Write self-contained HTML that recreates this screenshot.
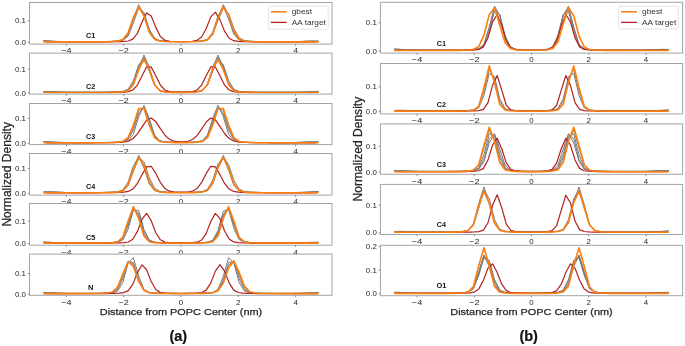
<!DOCTYPE html>
<html><head><meta charset="utf-8"><style>
html,body{margin:0;padding:0;background:#fff;}
body{width:685px;height:346px;overflow:hidden;}
svg{display:block;}
text{font-family:"Liberation Sans", sans-serif;fill:#262626;}
svg{will-change:transform;}
.tk{font-size:7.9px;}
.pl{font-size:7.1px;font-weight:bold;fill:#111;}
.lg{font-size:7.7px;fill:#333;}
.yl{font-size:12px;stroke:#262626;stroke-width:0.25px;}
.xl{font-size:9.7px;stroke:#262626;stroke-width:0.25px;}
.sub{font-size:14.5px;font-weight:bold;fill:#111;stroke:#111;stroke-width:0.2px;}
</style></head><body>
<svg width="685" height="346" viewBox="0 0 685 346">
<rect width="100%" height="100%" fill="#fff"/>
<rect x="29.50" y="2.50" width="302.50" height="41.60" fill="#fff"/>
<polyline points="43.50,40.83 48.79,40.92 54.08,41.29 59.36,41.54 64.65,41.61 69.94,41.63 75.23,41.65 80.52,41.65 85.81,41.65 91.10,41.65 96.39,41.64 101.67,41.62 106.96,41.56 112.25,41.42 117.54,41.13 122.83,40.18 128.11,34.86 133.40,18.71 138.69,4.63 143.98,15.07 149.27,32.77 154.56,39.74 159.85,41.05 165.14,41.38 170.42,41.54 175.71,41.61 181.00,41.63 186.29,41.62 191.58,41.55 196.86,41.41 202.15,41.12 207.44,40.13 212.73,34.64 218.02,18.30 223.31,4.58 228.60,15.47 233.89,33.03 239.17,39.79 244.46,41.06 249.75,41.38 255.04,41.54 260.33,41.61 265.61,41.64 270.90,41.65 276.19,41.65 281.48,41.65 286.77,41.65 292.06,41.64 297.35,41.60 302.64,41.44 307.92,41.16 313.21,41.01 318.50,41.16" fill="none" stroke="#7c7c7c" stroke-width="1.0" stroke-linejoin="round" opacity="1.0"/>
<polyline points="43.50,40.81 48.79,41.10 54.08,41.42 59.36,41.55 64.65,41.59 69.94,41.63 75.23,41.65 80.52,41.65 85.81,41.65 91.10,41.65 96.39,41.64 101.67,41.62 106.96,41.55 112.25,41.42 117.54,41.17 122.83,40.37 128.11,36.21 133.40,22.94 138.69,7.87 143.98,12.33 149.27,29.22 154.56,38.58 159.85,40.82 165.14,41.29 170.42,41.48 175.71,41.58 181.00,41.61 186.29,41.59 191.58,41.51 196.86,41.34 202.15,40.98 207.44,39.43 212.73,32.16 218.02,15.83 223.31,6.77 228.60,19.06 233.89,34.24 239.17,39.94 244.46,41.08 249.75,41.38 255.04,41.53 260.33,41.61 265.61,41.64 270.90,41.65 276.19,41.65 281.48,41.65 286.77,41.65 292.06,41.64 297.35,41.57 302.64,41.40 307.92,41.23 313.21,41.22 318.50,41.31" fill="none" stroke="#7c7c7c" stroke-width="1.0" stroke-linejoin="round" opacity="1.0"/>
<polyline points="43.50,41.01 48.79,41.30 54.08,41.45 59.36,41.50 64.65,41.57 69.94,41.63 75.23,41.65 80.52,41.65 85.81,41.65 91.10,41.64 96.39,41.62 101.67,41.57 106.96,41.48 112.25,41.30 117.54,40.92 122.83,39.38 128.11,33.05 133.40,18.97 138.69,7.96 143.98,14.56 149.27,29.62 154.56,38.27 159.85,40.68 165.14,41.22 170.42,41.43 175.71,41.54 181.00,41.58 186.29,41.57 191.58,41.49 196.86,41.32 202.15,40.97 207.44,39.63 212.73,33.92 218.02,20.36 223.31,8.31 228.60,13.35 233.89,28.45 239.17,37.84 244.46,40.59 249.75,41.20 255.04,41.42 260.33,41.55 265.61,41.61 270.90,41.64 276.19,41.65 281.48,41.65 286.77,41.65 292.06,41.63 297.35,41.56 302.64,41.44 307.92,41.37 313.21,41.35 318.50,41.21" fill="none" stroke="#7c7c7c" stroke-width="1.0" stroke-linejoin="round" opacity="1.0"/>
<polyline points="45.79,41.87 50.38,41.87 54.96,41.87 59.54,41.87 64.12,41.87 68.71,41.87 73.29,41.87 77.88,41.87 82.46,41.87 87.04,41.87 91.62,41.87 96.21,41.86 100.79,41.86 105.38,41.84 109.96,41.81 114.54,41.75 119.12,41.64 123.71,41.45 128.29,40.98 132.88,39.14 137.46,33.23 142.04,22.08 146.62,13.05 151.21,15.94 155.79,27.36 160.38,36.52 164.96,40.25 169.54,41.24 174.12,41.51 178.71,41.61 183.29,41.61 187.88,41.51 192.46,41.25 197.04,40.35 201.62,37.00 206.21,28.49 210.79,16.90 215.38,12.17 219.96,19.61 224.54,31.15 229.12,38.24 233.71,40.71 238.29,41.36 242.88,41.59 247.46,41.72 252.04,41.79 256.62,41.83 261.21,41.85 265.79,41.86 270.38,41.87 274.96,41.87 279.54,41.87 284.12,41.87 288.71,41.87 293.29,41.87 297.88,41.87 302.46,41.87 307.04,41.87 311.62,41.87 316.21,41.87" fill="none" stroke="#b22222" stroke-width="1.2" stroke-linejoin="round" opacity="1.0"/>
<polyline points="43.50,41.87 48.79,41.87 54.08,41.87 59.36,41.87 64.65,41.87 69.94,41.87 75.23,41.87 80.52,41.87 85.81,41.87 91.10,41.86 96.39,41.84 101.67,41.80 106.96,41.71 112.25,41.53 117.54,41.16 122.83,39.61 128.11,32.77 133.40,17.32 138.69,6.68 143.98,16.07 149.27,31.88 154.56,39.35 159.85,41.11 165.14,41.52 170.42,41.70 175.71,41.79 181.00,41.82 186.29,41.80 191.58,41.72 196.86,41.55 202.15,41.21 207.44,39.86 212.73,33.73 218.02,18.82 223.31,6.85 228.60,14.64 233.89,30.77 239.17,39.02 244.46,41.04 249.75,41.49 255.04,41.69 260.33,41.79 265.61,41.84 270.90,41.86 276.19,41.87 281.48,41.87 286.77,41.87 292.06,41.87 297.35,41.87 302.64,41.87 307.92,41.87 313.21,41.87 318.50,41.87" fill="none" stroke="#ff7f0e" stroke-width="1.6" stroke-linejoin="round" opacity="1.0"/>
<rect x="29.50" y="2.50" width="302.50" height="41.60" fill="none" stroke="#a4a4a4" stroke-width="1"/>
<line x1="66.42" y1="44.10" x2="66.42" y2="45.90" stroke="#777" stroke-width="0.8"/>
<text x="66.42" y="53.40" text-anchor="middle" class="tk" textLength="10.4" lengthAdjust="spacingAndGlyphs">−4</text>
<line x1="123.71" y1="44.10" x2="123.71" y2="45.90" stroke="#777" stroke-width="0.8"/>
<text x="123.71" y="53.40" text-anchor="middle" class="tk" textLength="10.4" lengthAdjust="spacingAndGlyphs">−2</text>
<line x1="181.00" y1="44.10" x2="181.00" y2="45.90" stroke="#777" stroke-width="0.8"/>
<text x="181.00" y="53.40" text-anchor="middle" class="tk">0</text>
<line x1="238.29" y1="44.10" x2="238.29" y2="45.90" stroke="#777" stroke-width="0.8"/>
<text x="238.29" y="53.40" text-anchor="middle" class="tk">2</text>
<line x1="295.58" y1="44.10" x2="295.58" y2="45.90" stroke="#777" stroke-width="0.8"/>
<text x="295.58" y="53.40" text-anchor="middle" class="tk">4</text>
<line x1="27.70" y1="42.30" x2="29.50" y2="42.30" stroke="#777" stroke-width="0.8"/>
<text x="25.90" y="44.80" text-anchor="end" class="tk">0.0</text>
<line x1="27.70" y1="20.70" x2="29.50" y2="20.70" stroke="#777" stroke-width="0.8"/>
<text x="25.90" y="23.20" text-anchor="end" class="tk">0.1</text>
<text x="90.60" y="38.48" text-anchor="middle" class="pl" textLength="9.22" lengthAdjust="spacingAndGlyphs">C1</text>
<rect x="29.50" y="53.10" width="302.50" height="41.00" fill="#fff"/>
<polyline points="43.50,91.86 48.79,91.92 54.08,91.92 59.36,92.03 64.65,92.18 69.94,92.26 75.23,92.28 80.52,92.28 85.81,92.28 91.10,92.28 96.39,92.28 101.67,92.27 106.96,92.25 112.25,92.18 117.54,92.03 122.83,91.73 128.11,90.63 133.40,84.61 138.69,67.67 143.98,55.00 149.27,67.17 154.56,84.32 159.85,90.57 165.14,91.71 170.42,92.02 175.71,92.17 181.00,92.21 186.29,92.17 191.58,92.02 196.86,91.71 202.15,90.57 207.44,84.32 212.73,67.17 218.02,55.00 223.31,67.67 228.60,84.61 233.89,90.63 239.17,91.73 244.46,92.03 249.75,92.18 255.04,92.25 260.33,92.27 265.61,92.28 270.90,92.28 276.19,92.28 281.48,92.28 286.77,92.28 292.06,92.25 297.35,92.20 302.64,92.14 307.92,92.06 313.21,91.83 318.50,91.48" fill="none" stroke="#7c7c7c" stroke-width="1.0" stroke-linejoin="round" opacity="1.0"/>
<polyline points="43.50,91.87 48.79,91.73 54.08,91.77 59.36,92.01 64.65,92.20 69.94,92.27 75.23,92.28 80.52,92.28 85.81,92.28 91.10,92.28 96.39,92.27 101.67,92.25 106.96,92.20 112.25,92.10 117.54,91.90 122.83,91.42 128.11,89.20 133.40,80.54 138.69,64.85 143.98,58.82 149.27,71.38 154.56,85.21 159.85,90.54 165.14,91.68 170.42,91.99 175.71,92.13 181.00,92.17 186.29,92.13 191.58,91.99 196.86,91.68 202.15,90.54 207.44,85.21 212.73,71.38 218.02,58.82 223.31,64.85 228.60,80.54 233.89,89.20 239.17,91.42 244.46,91.90 249.75,92.10 255.04,92.20 260.33,92.25 265.61,92.27 270.90,92.28 276.19,92.28 281.48,92.28 286.77,92.28 292.06,92.26 297.35,92.23 302.64,92.17 307.92,91.99 313.21,91.59 318.50,91.33" fill="none" stroke="#7c7c7c" stroke-width="1.0" stroke-linejoin="round" opacity="1.0"/>
<polyline points="43.50,91.65 48.79,91.51 54.08,91.74 59.36,92.07 64.65,92.23 69.94,92.27 75.23,92.28 80.52,92.28 85.81,92.28 91.10,92.28 96.39,92.28 101.67,92.26 106.96,92.23 112.25,92.14 117.54,91.97 122.83,91.60 128.11,90.03 133.40,82.69 138.69,66.28 143.98,57.27 149.27,69.68 154.56,84.87 159.85,90.57 165.14,91.70 170.42,92.01 175.71,92.15 181.00,92.19 186.29,92.15 191.58,92.01 196.86,91.70 202.15,90.57 207.44,84.87 212.73,69.68 218.02,57.27 223.31,66.28 228.60,82.69 233.89,90.03 239.17,91.60 244.46,91.97 249.75,92.14 255.04,92.23 260.33,92.26 265.61,92.28 270.90,92.28 276.19,92.28 281.48,92.28 286.77,92.28 292.06,92.27 297.35,92.24 302.64,92.14 307.92,91.83 313.21,91.45 318.50,91.44" fill="none" stroke="#7c7c7c" stroke-width="1.0" stroke-linejoin="round" opacity="1.0"/>
<polyline points="45.79,92.52 50.38,92.52 54.96,92.52 59.54,92.52 64.12,92.52 68.71,92.52 73.29,92.52 77.88,92.52 82.46,92.52 87.04,92.52 91.62,92.52 96.21,92.52 100.79,92.51 105.38,92.49 109.96,92.46 114.54,92.39 119.12,92.29 123.71,92.11 128.29,91.65 132.88,90.02 137.46,85.07 142.04,75.72 146.62,66.91 151.21,66.91 155.79,75.72 160.38,85.07 164.96,90.00 169.54,91.62 174.12,92.04 178.71,92.16 183.29,92.16 187.88,92.04 192.46,91.62 197.04,90.00 201.62,85.07 206.21,75.72 210.79,66.91 215.38,66.91 219.96,75.72 224.54,85.07 229.12,90.02 233.71,91.65 238.29,92.11 242.88,92.29 247.46,92.39 252.04,92.46 256.62,92.49 261.21,92.51 265.79,92.52 270.38,92.52 274.96,92.52 279.54,92.52 284.12,92.52 288.71,92.52 293.29,92.52 297.88,92.52 302.46,92.52 307.04,92.52 311.62,92.52 316.21,92.52" fill="none" stroke="#b22222" stroke-width="1.2" stroke-linejoin="round" opacity="1.0"/>
<polyline points="43.50,92.52 48.79,92.52 54.08,92.52 59.36,92.52 64.65,92.52 69.94,92.52 75.23,92.52 80.52,92.52 85.81,92.52 91.10,92.52 96.39,92.52 101.67,92.51 106.96,92.48 112.25,92.40 117.54,92.25 122.83,91.94 128.11,90.71 133.40,84.67 138.69,69.74 143.98,59.30 149.27,69.32 154.56,84.40 159.85,90.64 165.14,91.93 170.42,92.24 175.71,92.38 181.00,92.43 186.29,92.38 191.58,92.24 196.86,91.93 202.15,90.64 207.44,84.40 212.73,69.32 218.02,59.30 223.31,69.74 228.60,84.67 233.89,90.71 239.17,91.94 244.46,92.25 249.75,92.40 255.04,92.48 260.33,92.51 265.61,92.52 270.90,92.52 276.19,92.52 281.48,92.52 286.77,92.52 292.06,92.52 297.35,92.52 302.64,92.52 307.92,92.52 313.21,92.52 318.50,92.52" fill="none" stroke="#ff7f0e" stroke-width="1.6" stroke-linejoin="round" opacity="1.0"/>
<rect x="29.50" y="53.10" width="302.50" height="41.00" fill="none" stroke="#a4a4a4" stroke-width="1"/>
<line x1="66.42" y1="94.10" x2="66.42" y2="95.90" stroke="#777" stroke-width="0.8"/>
<text x="66.42" y="103.40" text-anchor="middle" class="tk" textLength="10.4" lengthAdjust="spacingAndGlyphs">−4</text>
<line x1="123.71" y1="94.10" x2="123.71" y2="95.90" stroke="#777" stroke-width="0.8"/>
<text x="123.71" y="103.40" text-anchor="middle" class="tk" textLength="10.4" lengthAdjust="spacingAndGlyphs">−2</text>
<line x1="181.00" y1="94.10" x2="181.00" y2="95.90" stroke="#777" stroke-width="0.8"/>
<text x="181.00" y="103.40" text-anchor="middle" class="tk">0</text>
<line x1="238.29" y1="94.10" x2="238.29" y2="95.90" stroke="#777" stroke-width="0.8"/>
<text x="238.29" y="103.40" text-anchor="middle" class="tk">2</text>
<line x1="295.58" y1="94.10" x2="295.58" y2="95.90" stroke="#777" stroke-width="0.8"/>
<text x="295.58" y="103.40" text-anchor="middle" class="tk">4</text>
<line x1="27.70" y1="93.00" x2="29.50" y2="93.00" stroke="#777" stroke-width="0.8"/>
<text x="25.90" y="95.50" text-anchor="end" class="tk">0.0</text>
<line x1="27.70" y1="69.10" x2="29.50" y2="69.10" stroke="#777" stroke-width="0.8"/>
<text x="25.90" y="71.60" text-anchor="end" class="tk">0.1</text>
<text x="90.60" y="88.60" text-anchor="middle" class="pl" textLength="9.22" lengthAdjust="spacingAndGlyphs">C2</text>
<rect x="29.50" y="103.50" width="302.50" height="41.10" fill="#fff"/>
<polyline points="43.50,141.60 48.79,141.71 54.08,142.14 59.36,142.42 64.65,142.51 69.94,142.53 75.23,142.55 80.52,142.55 85.81,142.55 91.10,142.55 96.39,142.55 101.67,142.54 106.96,142.51 112.25,142.44 117.54,142.29 122.83,141.97 128.11,140.76 133.40,134.23 138.69,116.81 143.98,105.23 149.27,118.48 154.56,135.19 159.85,140.96 165.14,142.01 170.42,142.30 175.71,142.44 181.00,142.48 186.29,142.44 191.58,142.30 196.86,142.01 202.15,140.96 207.44,135.19 212.73,118.48 218.02,105.23 223.31,116.81 228.60,134.23 233.89,140.76 239.17,141.97 244.46,142.29 249.75,142.44 255.04,142.51 260.33,142.54 265.61,142.55 270.90,142.55 276.19,142.55 281.48,142.55 286.77,142.55 292.06,142.54 297.35,142.49 302.64,142.31 307.92,141.98 313.21,141.81 318.50,142.00" fill="none" stroke="#7c7c7c" stroke-width="1.0" stroke-linejoin="round" opacity="1.0"/>
<polyline points="43.50,141.59 48.79,141.92 54.08,142.29 59.36,142.43 64.65,142.48 69.94,142.52 75.23,142.55 80.52,142.55 85.81,142.55 91.10,142.55 96.39,142.54 101.67,142.52 106.96,142.47 112.25,142.36 117.54,142.15 122.83,141.64 128.11,139.32 133.40,130.23 138.69,113.77 143.98,107.44 149.27,120.62 154.56,135.13 159.85,140.72 165.14,141.92 170.42,142.24 175.71,142.39 181.00,142.44 186.29,142.39 191.58,142.24 196.86,141.92 202.15,140.72 207.44,135.13 212.73,120.62 218.02,107.44 223.31,113.77 228.60,130.23 233.89,139.32 239.17,141.64 244.46,142.15 249.75,142.36 255.04,142.47 260.33,142.52 265.61,142.54 270.90,142.55 276.19,142.55 281.48,142.55 286.77,142.55 292.06,142.54 297.35,142.46 302.64,142.27 307.92,142.06 313.21,142.06 318.50,142.15" fill="none" stroke="#7c7c7c" stroke-width="1.0" stroke-linejoin="round" opacity="1.0"/>
<polyline points="43.50,141.82 48.79,142.15 54.08,142.31 59.36,142.37 64.65,142.45 69.94,142.52 75.23,142.55 80.52,142.55 85.81,142.55 91.10,142.55 96.39,142.54 101.67,142.51 106.96,142.45 112.25,142.33 117.54,142.09 122.83,141.46 128.11,138.41 133.40,127.61 138.69,111.01 143.98,108.05 149.27,123.17 154.56,136.51 159.85,141.05 165.14,141.99 170.42,142.28 175.71,142.41 181.00,142.45 186.29,142.41 191.58,142.28 196.86,141.99 202.15,141.05 207.44,136.51 212.73,123.17 218.02,108.05 223.31,111.01 228.60,127.61 233.89,138.41 239.17,141.46 244.46,142.09 249.75,142.33 255.04,142.45 260.33,142.51 265.61,142.54 270.90,142.55 276.19,142.55 281.48,142.55 286.77,142.55 292.06,142.53 297.35,142.45 302.64,142.31 307.92,142.23 313.21,142.20 318.50,142.04" fill="none" stroke="#7c7c7c" stroke-width="1.0" stroke-linejoin="round" opacity="1.0"/>
<polyline points="45.79,142.80 50.38,142.80 54.96,142.80 59.54,142.80 64.12,142.80 68.71,142.80 73.29,142.80 77.88,142.80 82.46,142.80 87.04,142.79 91.62,142.78 96.21,142.77 100.79,142.74 105.38,142.69 109.96,142.63 114.54,142.53 119.12,142.37 123.71,142.03 128.29,141.11 132.88,138.73 137.46,133.91 142.04,126.84 146.62,120.21 151.21,117.94 155.79,121.58 160.38,128.66 164.96,135.28 169.54,139.37 174.12,141.19 178.71,141.78 183.29,141.79 187.88,141.26 192.46,139.54 197.04,135.62 201.62,129.13 206.21,121.96 210.79,118.00 215.38,119.90 219.96,126.37 224.54,133.52 229.12,138.51 233.71,141.01 238.29,142.00 242.88,142.36 247.46,142.52 252.04,142.62 256.62,142.69 261.21,142.74 265.79,142.76 270.38,142.78 274.96,142.79 279.54,142.80 284.12,142.80 288.71,142.80 293.29,142.80 297.88,142.80 302.46,142.80 307.04,142.80 311.62,142.80 316.21,142.80" fill="none" stroke="#b22222" stroke-width="1.2" stroke-linejoin="round" opacity="1.0"/>
<polyline points="43.50,142.80 48.79,142.80 54.08,142.80 59.36,142.80 64.65,142.80 69.94,142.80 75.23,142.80 80.52,142.80 85.81,142.80 91.10,142.80 96.39,142.79 101.67,142.76 106.96,142.69 112.25,142.55 117.54,142.28 122.83,141.49 128.11,137.61 133.40,125.08 138.69,108.45 143.98,108.50 149.27,125.15 154.56,137.64 159.85,141.49 165.14,142.28 170.42,142.54 175.71,142.67 181.00,142.71 186.29,142.67 191.58,142.54 196.86,142.28 202.15,141.49 207.44,137.64 212.73,125.15 218.02,108.50 223.31,108.45 228.60,125.08 233.89,137.61 239.17,141.49 244.46,142.28 249.75,142.55 255.04,142.69 260.33,142.76 265.61,142.79 270.90,142.80 276.19,142.80 281.48,142.80 286.77,142.80 292.06,142.80 297.35,142.80 302.64,142.80 307.92,142.80 313.21,142.80 318.50,142.80" fill="none" stroke="#ff7f0e" stroke-width="1.6" stroke-linejoin="round" opacity="1.0"/>
<rect x="29.50" y="103.50" width="302.50" height="41.10" fill="none" stroke="#a4a4a4" stroke-width="1"/>
<line x1="66.42" y1="144.60" x2="66.42" y2="146.40" stroke="#777" stroke-width="0.8"/>
<text x="66.42" y="153.90" text-anchor="middle" class="tk" textLength="10.4" lengthAdjust="spacingAndGlyphs">−4</text>
<line x1="123.71" y1="144.60" x2="123.71" y2="146.40" stroke="#777" stroke-width="0.8"/>
<text x="123.71" y="153.90" text-anchor="middle" class="tk" textLength="10.4" lengthAdjust="spacingAndGlyphs">−2</text>
<line x1="181.00" y1="144.60" x2="181.00" y2="146.40" stroke="#777" stroke-width="0.8"/>
<text x="181.00" y="153.90" text-anchor="middle" class="tk">0</text>
<line x1="238.29" y1="144.60" x2="238.29" y2="146.40" stroke="#777" stroke-width="0.8"/>
<text x="238.29" y="153.90" text-anchor="middle" class="tk">2</text>
<line x1="295.58" y1="144.60" x2="295.58" y2="146.40" stroke="#777" stroke-width="0.8"/>
<text x="295.58" y="153.90" text-anchor="middle" class="tk">4</text>
<line x1="27.70" y1="143.30" x2="29.50" y2="143.30" stroke="#777" stroke-width="0.8"/>
<text x="25.90" y="145.80" text-anchor="end" class="tk">0.0</text>
<line x1="27.70" y1="118.40" x2="29.50" y2="118.40" stroke="#777" stroke-width="0.8"/>
<text x="25.90" y="120.90" text-anchor="end" class="tk">0.1</text>
<text x="90.60" y="139.08" text-anchor="middle" class="pl" textLength="9.22" lengthAdjust="spacingAndGlyphs">C3</text>
<rect x="29.50" y="153.50" width="302.50" height="41.60" fill="#fff"/>
<polyline points="43.50,192.11 48.79,192.18 54.08,192.17 59.36,192.28 64.65,192.45 69.94,192.53 75.23,192.55 80.52,192.55 85.81,192.55 91.10,192.55 96.39,192.54 101.67,192.52 106.96,192.46 112.25,192.32 117.54,192.03 122.83,191.07 128.11,185.72 133.40,169.49 138.69,155.33 143.98,165.83 149.27,183.62 154.56,190.62 159.85,191.94 165.14,192.28 170.42,192.44 175.71,192.51 181.00,192.53 186.29,192.51 191.58,192.44 196.86,192.29 202.15,191.97 207.44,190.77 212.73,184.29 218.02,166.90 223.31,155.22 228.60,168.39 233.89,185.15 239.17,190.95 244.46,192.01 249.75,192.31 255.04,192.45 260.33,192.52 265.61,192.54 270.90,192.55 276.19,192.55 281.48,192.55 286.77,192.55 292.06,192.52 297.35,192.46 302.64,192.40 307.92,192.32 313.21,192.08 318.50,191.71" fill="none" stroke="#7c7c7c" stroke-width="1.0" stroke-linejoin="round" opacity="1.0"/>
<polyline points="43.50,192.12 48.79,191.97 54.08,192.02 59.36,192.27 64.65,192.47 69.94,192.54 75.23,192.55 80.52,192.55 85.81,192.55 91.10,192.54 96.39,192.53 101.67,192.48 106.96,192.39 112.25,192.22 117.54,191.88 122.83,190.63 128.11,185.17 133.40,171.44 138.69,157.97 143.98,161.82 149.27,177.59 154.56,188.11 159.85,191.34 165.14,192.05 170.42,192.30 175.71,192.42 181.00,192.47 186.29,192.45 191.58,192.36 196.86,192.18 202.15,191.77 207.44,190.10 212.73,183.28 218.02,168.40 223.31,157.12 228.60,164.41 233.89,180.20 239.17,189.10 244.46,191.56 249.75,192.11 255.04,192.33 260.33,192.45 265.61,192.51 270.90,192.54 276.19,192.55 281.48,192.55 286.77,192.55 292.06,192.53 297.35,192.50 302.64,192.44 307.92,192.24 313.21,191.83 318.50,191.56" fill="none" stroke="#7c7c7c" stroke-width="1.0" stroke-linejoin="round" opacity="1.0"/>
<polyline points="43.50,191.89 48.79,191.74 54.08,191.99 59.36,192.34 64.65,192.50 69.94,192.54 75.23,192.55 80.52,192.55 85.81,192.55 91.10,192.54 96.39,192.53 101.67,192.48 106.96,192.38 112.25,192.18 117.54,191.75 122.83,189.86 128.11,181.95 133.40,165.71 138.69,156.76 143.98,168.14 149.27,183.66 154.56,190.35 159.85,191.85 165.14,192.22 170.42,192.39 175.71,192.48 181.00,192.50 186.29,192.46 191.58,192.36 196.86,192.15 202.15,191.64 207.44,189.31 212.73,180.20 218.02,163.64 223.31,157.18 228.60,170.39 233.89,185.04 239.17,190.70 244.46,191.92 249.75,192.25 255.04,192.41 260.33,192.49 265.61,192.53 270.90,192.55 276.19,192.55 281.48,192.55 286.77,192.55 292.06,192.54 297.35,192.51 302.64,192.40 307.92,192.08 313.21,191.69 318.50,191.68" fill="none" stroke="#7c7c7c" stroke-width="1.0" stroke-linejoin="round" opacity="1.0"/>
<polyline points="45.79,192.80 50.38,192.80 54.96,192.80 59.54,192.80 64.12,192.80 68.71,192.80 73.29,192.80 77.88,192.80 82.46,192.80 87.04,192.80 91.62,192.79 96.21,192.79 100.79,192.77 105.38,192.73 109.96,192.68 114.54,192.59 119.12,192.45 123.71,192.19 128.29,191.43 132.88,189.09 137.46,183.47 142.04,174.58 146.62,166.83 151.21,166.28 155.79,173.41 160.38,182.48 164.96,188.56 169.54,191.19 174.12,192.00 178.71,192.21 183.29,192.21 187.88,192.00 192.46,191.19 197.04,188.56 201.62,182.48 206.21,173.41 210.79,166.28 215.38,166.83 219.96,174.58 224.54,183.47 229.12,189.09 233.71,191.43 238.29,192.19 242.88,192.45 247.46,192.59 252.04,192.68 256.62,192.73 261.21,192.77 265.79,192.79 270.38,192.79 274.96,192.80 279.54,192.80 284.12,192.80 288.71,192.80 293.29,192.80 297.88,192.80 302.46,192.80 307.04,192.80 311.62,192.80 316.21,192.80" fill="none" stroke="#b22222" stroke-width="1.2" stroke-linejoin="round" opacity="1.0"/>
<polyline points="43.50,192.80 48.79,192.80 54.08,192.80 59.36,192.80 64.65,192.80 69.94,192.80 75.23,192.80 80.52,192.80 85.81,192.80 91.10,192.80 96.39,192.78 101.67,192.74 106.96,192.66 112.25,192.49 117.54,192.15 122.83,190.85 128.11,184.85 133.40,170.01 138.69,157.70 143.98,165.13 149.27,181.37 154.56,189.85 159.85,191.96 165.14,192.42 170.42,192.62 175.71,192.71 181.00,192.75 186.29,192.72 191.58,192.63 196.86,192.45 202.15,192.04 207.44,190.27 212.73,182.77 218.02,166.89 223.31,157.46 228.60,168.15 233.89,183.66 239.17,190.53 244.46,192.09 249.75,192.47 255.04,192.64 260.33,192.74 265.61,192.78 270.90,192.79 276.19,192.80 281.48,192.80 286.77,192.80 292.06,192.80 297.35,192.80 302.64,192.80 307.92,192.80 313.21,192.80 318.50,192.80" fill="none" stroke="#ff7f0e" stroke-width="1.6" stroke-linejoin="round" opacity="1.0"/>
<rect x="29.50" y="153.50" width="302.50" height="41.60" fill="none" stroke="#a4a4a4" stroke-width="1"/>
<line x1="66.42" y1="195.10" x2="66.42" y2="196.90" stroke="#777" stroke-width="0.8"/>
<text x="66.42" y="204.40" text-anchor="middle" class="tk" textLength="10.4" lengthAdjust="spacingAndGlyphs">−4</text>
<line x1="123.71" y1="195.10" x2="123.71" y2="196.90" stroke="#777" stroke-width="0.8"/>
<text x="123.71" y="204.40" text-anchor="middle" class="tk" textLength="10.4" lengthAdjust="spacingAndGlyphs">−2</text>
<line x1="181.00" y1="195.10" x2="181.00" y2="196.90" stroke="#777" stroke-width="0.8"/>
<text x="181.00" y="204.40" text-anchor="middle" class="tk">0</text>
<line x1="238.29" y1="195.10" x2="238.29" y2="196.90" stroke="#777" stroke-width="0.8"/>
<text x="238.29" y="204.40" text-anchor="middle" class="tk">2</text>
<line x1="295.58" y1="195.10" x2="295.58" y2="196.90" stroke="#777" stroke-width="0.8"/>
<text x="295.58" y="204.40" text-anchor="middle" class="tk">4</text>
<line x1="27.70" y1="193.30" x2="29.50" y2="193.30" stroke="#777" stroke-width="0.8"/>
<text x="25.90" y="195.80" text-anchor="end" class="tk">0.0</text>
<line x1="27.70" y1="168.40" x2="29.50" y2="168.40" stroke="#777" stroke-width="0.8"/>
<text x="25.90" y="170.90" text-anchor="end" class="tk">0.1</text>
<text x="90.60" y="189.48" text-anchor="middle" class="pl" textLength="9.22" lengthAdjust="spacingAndGlyphs">C4</text>
<rect x="29.50" y="203.50" width="302.50" height="41.70" fill="#fff"/>
<polyline points="43.50,242.08 48.79,242.18 54.08,242.56 59.36,242.81 64.65,242.89 69.94,242.91 75.23,242.93 80.52,242.93 85.81,242.93 91.10,242.93 96.39,242.91 101.67,242.87 106.96,242.77 112.25,242.55 117.54,241.95 122.83,238.41 128.11,224.33 133.40,207.40 138.69,215.20 143.98,233.74 149.27,241.09 154.56,242.37 159.85,242.69 165.14,242.84 170.42,242.90 175.71,242.92 181.00,242.93 186.29,242.92 191.58,242.90 196.86,242.84 202.15,242.69 207.44,242.37 212.73,241.09 218.02,233.74 223.31,215.20 228.60,207.40 233.89,224.33 239.17,238.41 244.46,241.95 249.75,242.55 255.04,242.77 260.33,242.87 265.61,242.91 270.90,242.93 276.19,242.93 281.48,242.93 286.77,242.93 292.06,242.92 297.35,242.88 302.64,242.71 307.92,242.42 313.21,242.27 318.50,242.44" fill="none" stroke="#7c7c7c" stroke-width="1.0" stroke-linejoin="round" opacity="1.0"/>
<polyline points="43.50,242.07 48.79,242.37 54.08,242.70 59.36,242.82 64.65,242.87 69.94,242.91 75.23,242.93 80.52,242.93 85.81,242.93 91.10,242.92 96.39,242.91 101.67,242.86 106.96,242.75 112.25,242.52 117.54,241.90 122.83,238.46 128.11,225.59 133.40,209.04 138.69,213.34 143.98,231.18 149.27,240.29 154.56,242.21 159.85,242.62 165.14,242.79 170.42,242.88 175.71,242.91 181.00,242.92 186.29,242.92 191.58,242.88 196.86,242.80 202.15,242.63 207.44,242.25 212.73,240.50 218.02,231.98 223.31,214.23 228.60,208.58 233.89,224.59 239.17,238.06 244.46,241.83 249.75,242.50 255.04,242.74 260.33,242.86 265.61,242.91 270.90,242.92 276.19,242.93 281.48,242.93 286.77,242.93 292.06,242.92 297.35,242.85 302.64,242.68 307.92,242.50 313.21,242.50 318.50,242.57" fill="none" stroke="#7c7c7c" stroke-width="1.0" stroke-linejoin="round" opacity="1.0"/>
<polyline points="43.50,242.28 48.79,242.57 54.08,242.72 59.36,242.77 64.65,242.84 69.94,242.90 75.23,242.93 80.52,242.93 85.81,242.93 91.10,242.93 96.39,242.91 101.67,242.87 106.96,242.75 112.25,242.52 117.54,241.82 122.83,237.60 128.11,222.39 133.40,207.25 138.69,217.65 143.98,235.21 149.27,241.39 154.56,242.43 159.85,242.71 165.14,242.85 170.42,242.90 175.71,242.92 181.00,242.93 186.29,242.92 191.58,242.90 196.86,242.84 202.15,242.70 207.44,242.40 212.73,241.26 218.02,234.55 223.31,216.58 228.60,207.50 233.89,223.48 239.17,238.05 244.46,241.89 249.75,242.53 255.04,242.76 260.33,242.87 265.61,242.91 270.90,242.93 276.19,242.93 281.48,242.93 286.77,242.93 292.06,242.91 297.35,242.83 302.64,242.71 307.92,242.64 313.21,242.62 318.50,242.47" fill="none" stroke="#7c7c7c" stroke-width="1.0" stroke-linejoin="round" opacity="1.0"/>
<polyline points="43.50,242.52 48.79,242.61 54.08,242.61 59.36,242.70 64.65,242.84 69.94,242.91 75.23,242.93 80.52,242.93 85.81,242.93 91.10,242.93 96.39,242.92 101.67,242.89 106.96,242.81 112.25,242.62 117.54,242.20 122.83,240.03 128.11,229.34 133.40,210.20 138.69,210.33 143.98,229.48 149.27,240.07 154.56,242.20 159.85,242.62 165.14,242.81 170.42,242.89 175.71,242.92 181.00,242.93 186.29,242.92 191.58,242.89 196.86,242.81 202.15,242.64 207.44,242.24 212.73,240.31 218.02,230.40 223.31,211.16 228.60,209.44 233.89,228.38 239.17,239.76 244.46,242.15 249.75,242.61 255.04,242.80 260.33,242.89 265.61,242.92 270.90,242.93 276.19,242.93 281.48,242.93 286.77,242.93 292.06,242.90 297.35,242.85 302.64,242.79 307.92,242.73 313.21,242.53 318.50,242.21" fill="none" stroke="#7c7c7c" stroke-width="1.0" stroke-linejoin="round" opacity="1.0"/>
<polyline points="45.79,243.15 50.38,243.15 54.96,243.15 59.54,243.15 64.12,243.15 68.71,243.15 73.29,243.15 77.88,243.15 82.46,243.15 87.04,243.15 91.62,243.15 96.21,243.15 100.79,243.14 105.38,243.13 109.96,243.09 114.54,243.02 119.12,242.89 123.71,242.66 128.29,241.99 132.88,239.27 137.46,231.39 142.04,219.22 146.62,213.30 151.21,220.68 155.79,232.72 160.38,239.83 164.96,242.13 169.54,242.69 174.12,242.89 178.71,242.97 183.29,242.98 187.88,242.90 192.46,242.71 197.04,242.19 201.62,240.08 206.21,233.35 210.79,221.43 215.38,213.39 219.96,218.53 224.54,230.69 229.12,238.96 233.71,241.90 238.29,242.64 242.88,242.88 247.46,243.01 252.04,243.09 256.62,243.12 261.21,243.14 265.79,243.15 270.38,243.15 274.96,243.15 279.54,243.15 284.12,243.15 288.71,243.15 293.29,243.15 297.88,243.15 302.46,243.15 307.04,243.15 311.62,243.15 316.21,243.15" fill="none" stroke="#b22222" stroke-width="1.2" stroke-linejoin="round" opacity="1.0"/>
<polyline points="43.50,243.15 48.79,243.15 54.08,243.15 59.36,243.15 64.65,243.15 69.94,243.15 75.23,243.15 80.52,243.15 85.81,243.15 91.10,243.15 96.39,243.13 101.67,243.08 106.96,242.97 112.25,242.72 117.54,241.94 122.83,237.23 128.11,221.11 133.40,206.65 138.69,218.52 143.98,235.93 149.27,241.71 154.56,242.67 159.85,242.94 165.14,243.07 170.42,243.13 175.71,243.15 181.00,243.15 186.29,243.15 191.58,243.13 196.86,243.07 202.15,242.94 207.44,242.67 212.73,241.71 218.02,235.93 223.31,218.52 228.60,206.65 233.89,221.11 239.17,237.23 244.46,241.94 249.75,242.72 255.04,242.97 260.33,243.08 265.61,243.13 270.90,243.15 276.19,243.15 281.48,243.15 286.77,243.15 292.06,243.15 297.35,243.15 302.64,243.15 307.92,243.15 313.21,243.15 318.50,243.15" fill="none" stroke="#ff7f0e" stroke-width="1.6" stroke-linejoin="round" opacity="1.0"/>
<rect x="29.50" y="203.50" width="302.50" height="41.70" fill="none" stroke="#a4a4a4" stroke-width="1"/>
<line x1="66.42" y1="245.20" x2="66.42" y2="247.00" stroke="#777" stroke-width="0.8"/>
<text x="66.42" y="254.50" text-anchor="middle" class="tk" textLength="10.4" lengthAdjust="spacingAndGlyphs">−4</text>
<line x1="123.71" y1="245.20" x2="123.71" y2="247.00" stroke="#777" stroke-width="0.8"/>
<text x="123.71" y="254.50" text-anchor="middle" class="tk" textLength="10.4" lengthAdjust="spacingAndGlyphs">−2</text>
<line x1="181.00" y1="245.20" x2="181.00" y2="247.00" stroke="#777" stroke-width="0.8"/>
<text x="181.00" y="254.50" text-anchor="middle" class="tk">0</text>
<line x1="238.29" y1="245.20" x2="238.29" y2="247.00" stroke="#777" stroke-width="0.8"/>
<text x="238.29" y="254.50" text-anchor="middle" class="tk">2</text>
<line x1="295.58" y1="245.20" x2="295.58" y2="247.00" stroke="#777" stroke-width="0.8"/>
<text x="295.58" y="254.50" text-anchor="middle" class="tk">4</text>
<line x1="27.70" y1="243.60" x2="29.50" y2="243.60" stroke="#777" stroke-width="0.8"/>
<text x="25.90" y="246.10" text-anchor="end" class="tk">0.0</text>
<line x1="27.70" y1="221.30" x2="29.50" y2="221.30" stroke="#777" stroke-width="0.8"/>
<text x="25.90" y="223.80" text-anchor="end" class="tk">0.1</text>
<text x="90.60" y="239.56" text-anchor="middle" class="pl" textLength="9.22" lengthAdjust="spacingAndGlyphs">C5</text>
<rect x="29.50" y="254.10" width="302.50" height="41.20" fill="#fff"/>
<polyline points="43.50,293.03 48.79,292.90 54.08,292.94 59.36,293.16 64.65,293.32 69.94,293.37 75.23,293.38 80.52,293.38 85.81,293.38 91.10,293.38 96.39,293.35 101.67,293.28 106.96,293.12 112.25,292.76 117.54,291.20 122.83,282.62 128.11,263.16 133.40,257.73 138.69,276.14 143.98,289.40 149.27,292.48 154.56,293.02 159.85,293.23 165.14,293.33 170.42,293.37 175.71,293.38 181.00,293.38 186.29,293.38 191.58,293.37 196.86,293.33 202.15,293.23 207.44,293.02 212.73,292.48 218.02,289.40 223.31,276.14 228.60,257.73 233.89,263.16 239.17,282.62 244.46,291.20 249.75,292.76 255.04,293.12 260.33,293.28 265.61,293.35 270.90,293.38 276.19,293.38 281.48,293.38 286.77,293.38 292.06,293.36 297.35,293.34 302.64,293.29 307.92,293.13 313.21,292.78 318.50,292.57" fill="none" stroke="#7c7c7c" stroke-width="1.0" stroke-linejoin="round" opacity="1.0"/>
<polyline points="43.50,292.83 48.79,292.72 54.08,292.92 59.36,293.21 64.65,293.34 69.94,293.37 75.23,293.38 80.52,293.38 85.81,293.37 91.10,293.35 96.39,293.30 101.67,293.17 106.96,292.93 112.25,292.22 117.54,288.50 122.83,276.15 128.11,261.13 133.40,264.34 138.69,280.64 143.98,290.19 149.27,292.54 154.56,293.02 159.85,293.22 165.14,293.32 170.42,293.36 175.71,293.38 181.00,293.38 186.29,293.38 191.58,293.36 196.86,293.32 202.15,293.22 207.44,293.03 212.73,292.59 218.02,290.44 223.31,281.43 228.60,265.10 233.89,260.70 239.17,275.23 244.46,288.09 249.75,292.14 255.04,292.92 260.33,293.16 265.61,293.29 270.90,293.35 276.19,293.37 281.48,293.38 286.77,293.38 292.06,293.37 297.35,293.35 302.64,293.26 307.92,292.99 313.21,292.67 318.50,292.67" fill="none" stroke="#7c7c7c" stroke-width="1.0" stroke-linejoin="round" opacity="1.0"/>
<polyline points="43.50,292.62 48.79,292.68 54.08,293.03 59.36,293.27 64.65,293.35 69.94,293.37 75.23,293.38 80.52,293.38 85.81,293.38 91.10,293.37 96.39,293.32 101.67,293.23 106.96,293.02 112.25,292.52 117.54,289.84 122.83,278.75 128.11,261.69 133.40,262.54 138.69,279.85 143.98,290.20 149.27,292.58 154.56,293.04 159.85,293.24 165.14,293.33 170.42,293.37 175.71,293.38 181.00,293.38 186.29,293.38 191.58,293.37 196.86,293.33 202.15,293.24 207.44,293.04 212.73,292.58 218.02,290.20 223.31,279.85 228.60,262.54 233.89,261.69 239.17,278.75 244.46,289.84 249.75,292.52 255.04,293.02 260.33,293.23 265.61,293.32 270.90,293.37 276.19,293.38 281.48,293.38 286.77,293.38 292.06,293.37 297.35,293.34 302.64,293.19 307.92,292.92 313.21,292.76 318.50,292.90" fill="none" stroke="#7c7c7c" stroke-width="1.0" stroke-linejoin="round" opacity="1.0"/>
<polyline points="45.79,293.59 50.38,293.59 54.96,293.59 59.54,293.59 64.12,293.59 68.71,293.59 73.29,293.59 77.88,293.59 82.46,293.59 87.04,293.59 91.62,293.59 96.21,293.58 100.79,293.57 105.38,293.54 109.96,293.47 114.54,293.36 119.12,293.17 123.71,292.66 128.29,290.62 132.88,284.11 137.46,272.58 142.04,264.80 146.62,269.77 151.21,281.53 155.79,289.54 160.38,292.38 164.96,293.09 169.54,293.32 174.12,293.44 178.71,293.50 183.29,293.50 187.88,293.45 192.46,293.34 197.04,293.13 201.62,292.53 206.21,290.12 210.79,282.86 215.38,271.13 219.96,264.68 224.54,271.13 229.12,282.86 233.71,290.12 238.29,292.53 242.88,293.13 247.46,293.35 252.04,293.46 256.62,293.53 261.21,293.56 265.79,293.58 270.38,293.59 274.96,293.59 279.54,293.59 284.12,293.59 288.71,293.59 293.29,293.59 297.88,293.59 302.46,293.59 307.04,293.59 311.62,293.59 316.21,293.59" fill="none" stroke="#b22222" stroke-width="1.2" stroke-linejoin="round" opacity="1.0"/>
<polyline points="43.50,293.59 48.79,293.59 54.08,293.59 59.36,293.59 64.65,293.59 69.94,293.59 75.23,293.59 80.52,293.58 85.81,293.57 91.10,293.54 96.39,293.47 101.67,293.32 106.96,293.04 112.25,292.01 117.54,287.17 122.83,274.13 128.11,261.48 133.40,266.45 138.69,281.64 143.98,290.41 149.27,292.72 154.56,293.21 159.85,293.41 165.14,293.51 170.42,293.56 175.71,293.58 181.00,293.58 186.29,293.58 191.58,293.56 196.86,293.52 202.15,293.42 207.44,293.24 212.73,292.81 218.02,290.87 223.31,283.04 228.60,267.99 233.89,261.01 239.17,272.39 244.46,286.17 249.75,291.77 255.04,292.99 260.33,293.30 265.61,293.46 270.90,293.53 276.19,293.57 281.48,293.58 286.77,293.59 292.06,293.59 297.35,293.59 302.64,293.59 307.92,293.59 313.21,293.59 318.50,293.59" fill="none" stroke="#ff7f0e" stroke-width="1.6" stroke-linejoin="round" opacity="1.0"/>
<rect x="29.50" y="254.10" width="302.50" height="41.20" fill="none" stroke="#a4a4a4" stroke-width="1"/>
<line x1="66.42" y1="295.30" x2="66.42" y2="297.10" stroke="#777" stroke-width="0.8"/>
<text x="66.42" y="304.60" text-anchor="middle" class="tk" textLength="10.4" lengthAdjust="spacingAndGlyphs">−4</text>
<line x1="123.71" y1="295.30" x2="123.71" y2="297.10" stroke="#777" stroke-width="0.8"/>
<text x="123.71" y="304.60" text-anchor="middle" class="tk" textLength="10.4" lengthAdjust="spacingAndGlyphs">−2</text>
<line x1="181.00" y1="295.30" x2="181.00" y2="297.10" stroke="#777" stroke-width="0.8"/>
<text x="181.00" y="304.60" text-anchor="middle" class="tk">0</text>
<line x1="238.29" y1="295.30" x2="238.29" y2="297.10" stroke="#777" stroke-width="0.8"/>
<text x="238.29" y="304.60" text-anchor="middle" class="tk">2</text>
<line x1="295.58" y1="295.30" x2="295.58" y2="297.10" stroke="#777" stroke-width="0.8"/>
<text x="295.58" y="304.60" text-anchor="middle" class="tk">4</text>
<line x1="27.70" y1="294.00" x2="29.50" y2="294.00" stroke="#777" stroke-width="0.8"/>
<text x="25.90" y="296.50" text-anchor="end" class="tk">0.0</text>
<line x1="27.70" y1="273.50" x2="29.50" y2="273.50" stroke="#777" stroke-width="0.8"/>
<text x="25.90" y="276.00" text-anchor="end" class="tk">0.1</text>
<text x="90.60" y="289.76" text-anchor="middle" class="pl" textLength="5.40" lengthAdjust="spacingAndGlyphs">N</text>
<rect x="268.40" y="6.20" width="59.80" height="23.00" rx="1.5" fill="#fff" fill-opacity="0.8" stroke="#ddd" stroke-width="0.8"/>
<line x1="270.80" y1="11.80" x2="286.60" y2="11.80" stroke="#ff7f0e" stroke-width="1.5"/>
<line x1="270.80" y1="22.40" x2="286.60" y2="22.40" stroke="#b22222" stroke-width="1.3"/>
<text x="291.70" y="14.40" class="lg" textLength="20.4" lengthAdjust="spacingAndGlyphs">gbest</text>
<text x="291.70" y="25.10" class="lg" textLength="34.2" lengthAdjust="spacingAndGlyphs">AA target</text>
<text transform="translate(10.80,174.30) rotate(-90)" text-anchor="middle" class="yl" textLength="104.6" lengthAdjust="spacingAndGlyphs">Normalized Density</text>
<text x="181.00" y="315.30" text-anchor="middle" class="xl" textLength="162.4" lengthAdjust="spacingAndGlyphs">Distance from POPC Center (nm)</text>
<text x="178.30" y="341.00" text-anchor="middle" class="sub">(a)</text>
<rect x="380.40" y="2.30" width="302.20" height="50.80" fill="#fff"/>
<polyline points="394.14,49.08 399.42,49.20 404.70,49.68 409.98,50.00 415.27,50.10 420.55,50.13 425.84,50.15 431.12,50.15 436.40,50.15 441.68,50.15 446.97,50.15 452.25,50.15 457.54,50.13 462.82,50.08 468.10,49.95 473.38,49.68 478.67,48.94 483.95,44.58 489.23,27.16 494.52,6.09 499.80,15.63 505.08,38.67 510.37,47.85 515.65,49.46 520.93,49.85 526.22,50.03 531.50,50.08 536.78,50.03 542.07,49.85 547.35,49.46 552.63,47.85 557.92,38.67 563.20,15.63 568.48,6.09 573.77,27.16 579.05,44.58 584.33,48.94 589.62,49.68 594.90,49.95 600.18,50.08 605.46,50.13 610.75,50.15 616.03,50.15 621.32,50.15 626.60,50.15 631.88,50.15 637.16,50.15 642.45,50.14 647.73,50.08 653.02,49.88 658.30,49.51 663.58,49.31 668.86,49.52" fill="none" stroke="#7c7c7c" stroke-width="1.0" stroke-linejoin="round" opacity="1.0"/>
<polyline points="394.14,49.06 399.42,49.43 404.70,49.85 409.98,50.02 415.27,50.08 420.55,50.12 425.84,50.15 431.12,50.15 436.40,50.15 441.68,50.15 446.97,50.15 452.25,50.15 457.54,50.13 462.82,50.08 468.10,49.95 473.38,49.70 478.67,49.02 483.95,45.38 489.23,31.10 494.52,11.21 499.80,14.50 505.08,35.37 510.37,46.76 515.65,49.26 520.93,49.76 526.22,49.97 531.50,50.03 536.78,49.97 542.07,49.76 547.35,49.26 552.63,46.76 557.92,35.37 563.20,14.50 568.48,11.21 573.77,31.10 579.05,45.38 584.33,49.02 589.62,49.70 594.90,49.95 600.18,50.08 605.46,50.13 610.75,50.15 616.03,50.15 621.32,50.15 626.60,50.15 631.88,50.15 637.16,50.15 642.45,50.13 647.73,50.05 653.02,49.83 658.30,49.60 663.58,49.60 668.86,49.70" fill="none" stroke="#7c7c7c" stroke-width="1.0" stroke-linejoin="round" opacity="1.0"/>
<polyline points="394.14,49.32 399.42,49.69 404.70,49.89 409.98,49.95 415.27,50.04 420.55,50.12 425.84,50.15 431.12,50.15 436.40,50.15 441.68,50.15 446.97,50.15 452.25,50.15 457.54,50.12 462.82,50.06 468.10,49.92 473.38,49.64 478.67,48.83 483.95,44.30 489.23,28.07 494.52,8.67 499.80,15.37 505.08,36.84 510.37,47.19 515.65,49.32 520.93,49.78 526.22,49.98 531.50,50.04 536.78,49.98 542.07,49.78 547.35,49.32 552.63,47.19 557.92,36.84 563.20,15.37 568.48,8.67 573.77,28.07 579.05,44.30 584.33,48.83 589.62,49.64 594.90,49.92 600.18,50.06 605.46,50.12 610.75,50.15 616.03,50.15 621.32,50.15 626.60,50.15 631.88,50.15 637.16,50.15 642.45,50.12 647.73,50.03 653.02,49.87 658.30,49.78 663.58,49.76 668.86,49.58" fill="none" stroke="#7c7c7c" stroke-width="1.0" stroke-linejoin="round" opacity="1.0"/>
<polyline points="396.43,50.44 401.00,50.44 405.58,50.44 410.16,50.44 414.74,50.44 419.32,50.44 423.90,50.44 428.48,50.44 433.06,50.44 437.63,50.44 442.21,50.44 446.79,50.43 451.37,50.43 455.95,50.42 460.53,50.39 465.11,50.33 469.69,50.21 474.27,49.98 478.84,49.42 483.42,46.89 488.00,37.83 492.58,21.87 497.16,14.51 501.74,25.89 506.32,40.96 510.90,47.92 515.47,49.63 520.05,50.05 524.63,50.23 529.21,50.32 533.79,50.32 538.37,50.23 542.95,50.05 547.53,49.63 552.10,47.92 556.68,40.96 561.26,25.89 565.84,14.51 570.42,21.87 575.00,37.83 579.58,46.89 584.16,49.42 588.73,49.98 593.31,50.21 597.89,50.33 602.47,50.39 607.05,50.42 611.63,50.43 616.21,50.43 620.79,50.44 625.37,50.44 629.94,50.44 634.52,50.44 639.10,50.44 643.68,50.44 648.26,50.44 652.84,50.44 657.42,50.44 662.00,50.44 666.57,50.44" fill="none" stroke="#b22222" stroke-width="1.2" stroke-linejoin="round" opacity="1.0"/>
<polyline points="394.14,50.44 399.42,50.44 404.70,50.44 409.98,50.44 415.27,50.44 420.55,50.44 425.84,50.44 431.12,50.44 436.40,50.44 441.68,50.43 446.97,50.43 452.25,50.40 457.54,50.34 462.82,50.21 468.10,49.97 473.38,49.37 478.67,46.55 483.95,35.18 489.23,14.66 494.52,8.02 499.80,25.47 505.08,42.60 510.37,48.56 515.65,49.76 520.93,50.11 526.22,50.27 531.50,50.32 536.78,50.27 542.07,50.10 547.35,49.73 552.63,48.42 557.92,41.99 563.20,24.29 568.48,7.64 573.77,15.69 579.05,36.12 584.33,46.85 589.62,49.43 594.90,49.98 600.18,50.22 605.46,50.35 610.75,50.40 616.03,50.43 621.32,50.43 626.60,50.44 631.88,50.44 637.16,50.44 642.45,50.44 647.73,50.44 653.02,50.44 658.30,50.44 663.58,50.44 668.86,50.44" fill="none" stroke="#ff7f0e" stroke-width="1.6" stroke-linejoin="round" opacity="1.0"/>
<rect x="380.40" y="2.30" width="302.20" height="50.80" fill="none" stroke="#a4a4a4" stroke-width="1"/>
<line x1="417.03" y1="53.10" x2="417.03" y2="54.90" stroke="#777" stroke-width="0.8"/>
<text x="417.03" y="62.40" text-anchor="middle" class="tk" textLength="10.4" lengthAdjust="spacingAndGlyphs">−4</text>
<line x1="474.27" y1="53.10" x2="474.27" y2="54.90" stroke="#777" stroke-width="0.8"/>
<text x="474.27" y="62.40" text-anchor="middle" class="tk" textLength="10.4" lengthAdjust="spacingAndGlyphs">−2</text>
<line x1="531.50" y1="53.10" x2="531.50" y2="54.90" stroke="#777" stroke-width="0.8"/>
<text x="531.50" y="62.40" text-anchor="middle" class="tk">0</text>
<line x1="588.73" y1="53.10" x2="588.73" y2="54.90" stroke="#777" stroke-width="0.8"/>
<text x="588.73" y="62.40" text-anchor="middle" class="tk">2</text>
<line x1="645.97" y1="53.10" x2="645.97" y2="54.90" stroke="#777" stroke-width="0.8"/>
<text x="645.97" y="62.40" text-anchor="middle" class="tk">4</text>
<line x1="378.60" y1="51.00" x2="380.40" y2="51.00" stroke="#777" stroke-width="0.8"/>
<text x="376.80" y="53.50" text-anchor="end" class="tk">0.0</text>
<line x1="378.60" y1="22.80" x2="380.40" y2="22.80" stroke="#777" stroke-width="0.8"/>
<text x="376.80" y="25.30" text-anchor="end" class="tk">0.1</text>
<text x="441.44" y="45.64" text-anchor="middle" class="pl" textLength="9.22" lengthAdjust="spacingAndGlyphs">C1</text>
<rect x="380.40" y="63.50" width="302.20" height="50.40" fill="#fff"/>
<polyline points="394.14,110.42 399.42,110.49 404.70,110.48 409.98,110.59 415.27,110.75 420.55,110.84 425.84,110.86 431.12,110.86 436.40,110.86 441.68,110.86 446.97,110.86 452.25,110.85 457.54,110.81 462.82,110.72 468.10,110.50 473.38,109.95 478.67,106.77 483.95,91.38 489.23,69.73 494.52,78.72 499.80,101.15 505.08,109.07 510.37,110.30 515.65,110.63 520.93,110.78 526.22,110.83 531.50,110.85 536.78,110.83 542.07,110.78 547.35,110.63 552.63,110.30 557.92,109.07 563.20,101.15 568.48,78.72 573.77,69.73 579.05,91.38 584.33,106.77 589.62,109.95 594.90,110.50 600.18,110.72 605.46,110.81 610.75,110.85 616.03,110.86 621.32,110.86 626.60,110.86 631.88,110.86 637.16,110.85 642.45,110.83 647.73,110.77 653.02,110.71 658.30,110.63 663.58,110.39 668.86,110.03" fill="none" stroke="#7c7c7c" stroke-width="1.0" stroke-linejoin="round" opacity="1.0"/>
<polyline points="394.14,110.44 399.42,110.29 404.70,110.33 409.98,110.58 415.27,110.78 420.55,110.84 425.84,110.86 431.12,110.86 436.40,110.86 441.68,110.86 446.97,110.86 452.25,110.85 457.54,110.82 462.82,110.75 468.10,110.56 473.38,110.13 478.67,107.91 483.95,95.70 489.23,73.51 494.52,76.51 499.80,98.89 505.08,108.63 510.37,110.23 515.65,110.60 520.93,110.77 526.22,110.83 531.50,110.85 536.78,110.83 542.07,110.77 547.35,110.60 552.63,110.23 557.92,108.63 563.20,98.89 568.48,76.51 573.77,73.51 579.05,95.70 584.33,107.91 589.62,110.13 594.90,110.56 600.18,110.75 605.46,110.82 610.75,110.85 616.03,110.86 621.32,110.86 626.60,110.86 631.88,110.86 637.16,110.85 642.45,110.83 647.73,110.80 653.02,110.75 658.30,110.55 663.58,110.14 668.86,109.87" fill="none" stroke="#7c7c7c" stroke-width="1.0" stroke-linejoin="round" opacity="1.0"/>
<polyline points="396.43,111.11 401.00,111.11 405.58,111.11 410.16,111.11 414.74,111.11 419.32,111.11 423.90,111.11 428.48,111.11 433.06,111.11 437.63,111.11 442.21,111.11 446.79,111.11 451.37,111.11 455.95,111.10 460.53,111.10 465.11,111.07 469.69,111.01 474.27,110.86 478.84,110.55 483.42,109.32 488.00,102.59 492.58,85.18 497.16,75.53 501.74,90.06 506.32,105.26 510.90,109.85 515.47,110.65 520.05,110.90 524.63,111.03 529.21,111.07 533.79,111.07 538.37,111.03 542.95,110.90 547.53,110.65 552.10,109.85 556.68,105.26 561.26,90.06 565.84,75.53 570.42,85.18 575.00,102.59 579.58,109.32 584.16,110.55 588.73,110.86 593.31,111.01 597.89,111.07 602.47,111.10 607.05,111.10 611.63,111.11 616.21,111.11 620.79,111.11 625.37,111.11 629.94,111.11 634.52,111.11 639.10,111.11 643.68,111.11 648.26,111.11 652.84,111.11 657.42,111.11 662.00,111.11 666.57,111.11" fill="none" stroke="#b22222" stroke-width="1.2" stroke-linejoin="round" opacity="1.0"/>
<polyline points="394.14,111.11 399.42,111.11 404.70,111.11 409.98,111.11 415.27,111.11 420.55,111.11 425.84,111.11 431.12,111.11 436.40,111.11 441.68,111.11 446.97,111.10 452.25,111.10 457.54,111.07 462.82,110.98 468.10,110.75 473.38,110.16 478.67,106.43 483.95,87.72 489.23,65.87 494.52,82.48 499.80,104.54 505.08,109.92 510.37,110.68 515.65,110.95 520.93,111.06 526.22,111.09 531.50,111.10 536.78,111.09 542.07,111.06 547.35,110.95 552.63,110.68 557.92,109.92 563.20,104.54 568.48,82.48 573.77,65.87 579.05,87.72 584.33,106.43 589.62,110.16 594.90,110.75 600.18,110.98 605.46,111.07 610.75,111.10 616.03,111.10 621.32,111.11 626.60,111.11 631.88,111.11 637.16,111.11 642.45,111.11 647.73,111.11 653.02,111.11 658.30,111.11 663.58,111.11 668.86,111.11" fill="none" stroke="#ff7f0e" stroke-width="1.6" stroke-linejoin="round" opacity="1.0"/>
<rect x="380.40" y="63.50" width="302.20" height="50.40" fill="none" stroke="#a4a4a4" stroke-width="1"/>
<line x1="417.03" y1="113.90" x2="417.03" y2="115.70" stroke="#777" stroke-width="0.8"/>
<text x="417.03" y="123.20" text-anchor="middle" class="tk" textLength="10.4" lengthAdjust="spacingAndGlyphs">−4</text>
<line x1="474.27" y1="113.90" x2="474.27" y2="115.70" stroke="#777" stroke-width="0.8"/>
<text x="474.27" y="123.20" text-anchor="middle" class="tk" textLength="10.4" lengthAdjust="spacingAndGlyphs">−2</text>
<line x1="531.50" y1="113.90" x2="531.50" y2="115.70" stroke="#777" stroke-width="0.8"/>
<text x="531.50" y="123.20" text-anchor="middle" class="tk">0</text>
<line x1="588.73" y1="113.90" x2="588.73" y2="115.70" stroke="#777" stroke-width="0.8"/>
<text x="588.73" y="123.20" text-anchor="middle" class="tk">2</text>
<line x1="645.97" y1="113.90" x2="645.97" y2="115.70" stroke="#777" stroke-width="0.8"/>
<text x="645.97" y="123.20" text-anchor="middle" class="tk">4</text>
<line x1="378.60" y1="111.60" x2="380.40" y2="111.60" stroke="#777" stroke-width="0.8"/>
<text x="376.80" y="114.10" text-anchor="end" class="tk">0.0</text>
<line x1="378.60" y1="86.90" x2="380.40" y2="86.90" stroke="#777" stroke-width="0.8"/>
<text x="376.80" y="89.40" text-anchor="end" class="tk">0.1</text>
<text x="441.44" y="106.52" text-anchor="middle" class="pl" textLength="9.22" lengthAdjust="spacingAndGlyphs">C2</text>
<rect x="380.40" y="123.90" width="302.20" height="50.40" fill="#fff"/>
<polyline points="394.14,170.69 399.42,170.56 404.70,170.85 409.98,171.21 415.27,171.37 420.55,171.41 425.84,171.42 431.12,171.42 436.40,171.42 441.68,171.42 446.97,171.42 452.25,171.40 457.54,171.35 462.82,171.22 468.10,170.95 473.38,170.17 478.67,165.48 483.95,148.09 489.23,129.87 494.52,141.20 499.80,161.99 505.08,169.54 510.37,170.82 515.65,171.16 520.93,171.32 526.22,171.39 531.50,171.41 536.78,171.39 542.07,171.32 547.35,171.16 552.63,170.82 557.92,169.54 563.20,161.99 568.48,141.20 573.77,129.87 579.05,148.09 584.33,165.48 589.62,170.17 594.90,170.95 600.18,171.22 605.46,171.35 610.75,171.40 616.03,171.42 621.32,171.42 626.60,171.42 631.88,171.42 637.16,171.42 642.45,171.41 647.73,171.38 653.02,171.25 658.30,170.91 663.58,170.52 668.86,170.54" fill="none" stroke="#7c7c7c" stroke-width="1.0" stroke-linejoin="round" opacity="1.0"/>
<polyline points="394.14,170.43 399.42,170.55 404.70,170.99 409.98,171.29 415.27,171.38 420.55,171.40 425.84,171.42 431.12,171.42 436.40,171.42 441.68,171.42 446.97,171.42 452.25,171.41 457.54,171.37 462.82,171.27 468.10,171.06 473.38,170.54 478.67,167.74 483.95,154.72 489.23,133.83 494.52,136.55 499.80,157.95 505.08,168.63 510.37,170.67 515.65,171.10 520.93,171.29 526.22,171.38 531.50,171.40 536.78,171.38 542.07,171.29 547.35,171.10 552.63,170.67 557.92,168.63 563.20,157.95 568.48,136.55 573.77,133.83 579.05,154.72 584.33,167.74 589.62,170.54 594.90,171.06 600.18,171.27 605.46,171.37 610.75,171.41 616.03,171.42 621.32,171.42 626.60,171.42 631.88,171.42 637.16,171.42 642.45,171.41 647.73,171.36 653.02,171.17 658.30,170.83 663.58,170.65 668.86,170.84" fill="none" stroke="#7c7c7c" stroke-width="1.0" stroke-linejoin="round" opacity="1.0"/>
<polyline points="394.14,170.42 399.42,170.76 404.70,171.15 409.98,171.30 415.27,171.35 420.55,171.39 425.84,171.42 431.12,171.42 436.40,171.42 441.68,171.42 446.97,171.42 452.25,171.41 457.54,171.38 462.82,171.30 468.10,171.13 473.38,170.73 478.67,168.93 483.95,159.23 489.23,138.57 494.52,134.38 499.80,154.25 505.08,167.55 510.37,170.52 515.65,171.05 520.93,171.27 526.22,171.37 531.50,171.39 536.78,171.37 542.07,171.27 547.35,171.05 552.63,170.52 557.92,167.55 563.20,154.25 568.48,134.38 573.77,138.57 579.05,159.23 584.33,168.93 589.62,170.73 594.90,171.13 600.18,171.30 605.46,171.38 610.75,171.41 616.03,171.42 621.32,171.42 626.60,171.42 631.88,171.42 637.16,171.42 642.45,171.40 647.73,171.33 653.02,171.13 658.30,170.91 663.58,170.91 668.86,171.01" fill="none" stroke="#7c7c7c" stroke-width="1.0" stroke-linejoin="round" opacity="1.0"/>
<polyline points="394.14,170.66 399.42,171.00 404.70,171.18 409.98,171.23 415.27,171.32 420.55,171.39 425.84,171.42 431.12,171.42 436.40,171.42 441.68,171.42 446.97,171.42 452.25,171.41 457.54,171.38 462.82,171.30 468.10,171.13 473.38,170.77 478.67,169.28 483.95,161.54 489.23,143.03 494.52,133.70 499.80,149.11 505.08,165.04 510.37,170.02 515.65,170.91 520.93,171.19 526.22,171.32 531.50,171.36 536.78,171.32 542.07,171.19 547.35,170.91 552.63,170.02 557.92,165.04 563.20,149.11 568.48,133.70 573.77,143.03 579.05,161.54 584.33,169.28 589.62,170.77 594.90,171.13 600.18,171.30 605.46,171.38 610.75,171.41 616.03,171.42 621.32,171.42 626.60,171.42 631.88,171.42 637.16,171.42 642.45,171.40 647.73,171.31 653.02,171.17 658.30,171.08 663.58,171.06 668.86,170.89" fill="none" stroke="#7c7c7c" stroke-width="1.0" stroke-linejoin="round" opacity="1.0"/>
<polyline points="396.43,171.68 401.00,171.68 405.58,171.68 410.16,171.68 414.74,171.68 419.32,171.68 423.90,171.68 428.48,171.68 433.06,171.68 437.63,171.68 442.21,171.68 446.79,171.68 451.37,171.68 455.95,171.67 460.53,171.64 465.11,171.58 469.69,171.47 474.27,171.26 478.84,170.73 483.42,168.38 488.00,159.92 492.58,145.03 497.16,138.17 501.74,148.78 506.32,162.85 510.90,169.33 515.47,170.93 520.05,171.32 524.63,171.49 529.21,171.57 533.79,171.57 538.37,171.49 542.95,171.32 547.53,170.93 552.10,169.33 556.68,162.85 561.26,148.78 565.84,138.17 570.42,145.03 575.00,159.92 579.58,168.38 584.16,170.73 588.73,171.26 593.31,171.47 597.89,171.58 602.47,171.64 607.05,171.67 611.63,171.68 616.21,171.68 620.79,171.68 625.37,171.68 629.94,171.68 634.52,171.68 639.10,171.68 643.68,171.68 648.26,171.68 652.84,171.68 657.42,171.68 662.00,171.68 666.57,171.68" fill="none" stroke="#b22222" stroke-width="1.2" stroke-linejoin="round" opacity="1.0"/>
<polyline points="394.14,171.68 399.42,171.68 404.70,171.68 409.98,171.68 415.27,171.68 420.55,171.68 425.84,171.68 431.12,171.68 436.40,171.68 441.68,171.68 446.97,171.68 452.25,171.66 457.54,171.60 462.82,171.46 468.10,171.16 473.38,170.26 478.67,164.80 483.95,145.55 489.23,127.30 494.52,140.94 499.80,162.47 505.08,169.84 510.37,171.07 515.65,171.42 520.93,171.58 526.22,171.65 531.50,171.67 536.78,171.65 542.07,171.58 547.35,171.42 552.63,171.07 557.92,169.84 563.20,162.47 568.48,140.94 573.77,127.30 579.05,145.55 584.33,164.80 589.62,170.26 594.90,171.16 600.18,171.46 605.46,171.60 610.75,171.66 616.03,171.68 621.32,171.68 626.60,171.68 631.88,171.68 637.16,171.68 642.45,171.68 647.73,171.68 653.02,171.68 658.30,171.68 663.58,171.68 668.86,171.68" fill="none" stroke="#ff7f0e" stroke-width="1.6" stroke-linejoin="round" opacity="1.0"/>
<rect x="380.40" y="123.90" width="302.20" height="50.40" fill="none" stroke="#a4a4a4" stroke-width="1"/>
<line x1="417.03" y1="174.30" x2="417.03" y2="176.10" stroke="#777" stroke-width="0.8"/>
<text x="417.03" y="183.60" text-anchor="middle" class="tk" textLength="10.4" lengthAdjust="spacingAndGlyphs">−4</text>
<line x1="474.27" y1="174.30" x2="474.27" y2="176.10" stroke="#777" stroke-width="0.8"/>
<text x="474.27" y="183.60" text-anchor="middle" class="tk" textLength="10.4" lengthAdjust="spacingAndGlyphs">−2</text>
<line x1="531.50" y1="174.30" x2="531.50" y2="176.10" stroke="#777" stroke-width="0.8"/>
<text x="531.50" y="183.60" text-anchor="middle" class="tk">0</text>
<line x1="588.73" y1="174.30" x2="588.73" y2="176.10" stroke="#777" stroke-width="0.8"/>
<text x="588.73" y="183.60" text-anchor="middle" class="tk">2</text>
<line x1="645.97" y1="174.30" x2="645.97" y2="176.10" stroke="#777" stroke-width="0.8"/>
<text x="645.97" y="183.60" text-anchor="middle" class="tk">4</text>
<line x1="378.60" y1="172.20" x2="380.40" y2="172.20" stroke="#777" stroke-width="0.8"/>
<text x="376.80" y="174.70" text-anchor="end" class="tk">0.0</text>
<line x1="378.60" y1="146.30" x2="380.40" y2="146.30" stroke="#777" stroke-width="0.8"/>
<text x="376.80" y="148.80" text-anchor="end" class="tk">0.1</text>
<text x="441.44" y="166.92" text-anchor="middle" class="pl" textLength="9.22" lengthAdjust="spacingAndGlyphs">C3</text>
<rect x="380.40" y="184.40" width="302.20" height="50.10" fill="#fff"/>
<polyline points="394.14,231.48 399.42,231.56 404.70,231.54 409.98,231.67 415.27,231.86 420.55,231.95 425.84,231.97 431.12,231.97 436.40,231.97 441.68,231.96 446.97,231.94 452.25,231.88 457.54,231.73 462.82,231.40 468.10,230.35 473.38,224.02 478.67,203.46 483.95,186.99 489.23,203.04 494.52,223.80 499.80,230.32 505.08,231.40 510.37,231.72 515.65,231.88 520.93,231.94 526.22,231.96 531.50,231.97 536.78,231.96 542.07,231.94 547.35,231.87 552.63,231.71 557.92,231.37 563.20,230.18 568.48,223.08 573.77,201.66 579.05,187.06 584.33,204.85 589.62,224.67 594.90,230.47 600.18,231.43 605.46,231.74 610.75,231.89 616.03,231.95 621.32,231.97 626.60,231.97 631.88,231.97 637.16,231.97 642.45,231.94 647.73,231.87 653.02,231.80 658.30,231.72 663.58,231.44 668.86,231.04" fill="none" stroke="#7c7c7c" stroke-width="1.0" stroke-linejoin="round" opacity="1.0"/>
<polyline points="394.14,231.50 399.42,231.33 404.70,231.38 409.98,231.66 415.27,231.88 420.55,231.96 425.84,231.97 431.12,231.97 436.40,231.97 441.68,231.96 446.97,231.94 452.25,231.88 457.54,231.73 462.82,231.43 468.10,230.55 473.38,225.58 478.67,208.62 483.95,190.07 489.23,198.46 494.52,219.67 499.80,229.27 505.08,231.19 510.37,231.62 515.65,231.82 520.93,231.92 526.22,231.95 531.50,231.96 536.78,231.95 542.07,231.92 547.35,231.82 552.63,231.62 557.92,231.19 563.20,229.27 568.48,219.67 573.77,198.46 579.05,190.07 584.33,208.62 589.62,225.58 594.90,230.55 600.18,231.43 605.46,231.73 610.75,231.88 616.03,231.94 621.32,231.96 626.60,231.97 631.88,231.97 637.16,231.96 642.45,231.94 647.73,231.91 653.02,231.85 658.30,231.63 663.58,231.17 668.86,230.87" fill="none" stroke="#7c7c7c" stroke-width="1.0" stroke-linejoin="round" opacity="1.0"/>
<polyline points="396.43,232.25 401.00,232.25 405.58,232.25 410.16,232.25 414.74,232.25 419.32,232.25 423.90,232.25 428.48,232.25 433.06,232.25 437.63,232.25 442.21,232.25 446.79,232.25 451.37,232.25 455.95,232.24 460.53,232.23 465.11,232.20 469.69,232.11 474.27,231.94 478.84,231.57 483.42,230.07 488.00,222.72 492.58,205.29 497.16,194.77 501.74,207.69 506.32,224.22 510.90,230.43 515.47,231.64 520.05,231.96 524.63,232.12 529.21,232.19 533.79,232.19 538.37,232.13 542.95,231.99 547.53,231.70 552.10,230.71 556.68,225.54 561.26,210.12 565.84,195.21 570.42,202.98 575.00,221.03 579.58,229.63 584.16,231.49 588.73,231.91 593.31,232.10 597.89,232.19 602.47,232.23 607.05,232.24 611.63,232.25 616.21,232.25 620.79,232.25 625.37,232.25 629.94,232.25 634.52,232.25 639.10,232.25 643.68,232.25 648.26,232.25 652.84,232.25 657.42,232.25 662.00,232.25 666.57,232.25" fill="none" stroke="#b22222" stroke-width="1.2" stroke-linejoin="round" opacity="1.0"/>
<polyline points="394.14,232.25 399.42,232.25 404.70,232.25 409.98,232.25 415.27,232.25 420.55,232.25 425.84,232.25 431.12,232.25 436.40,232.25 441.68,232.24 446.97,232.21 452.25,232.14 457.54,231.98 462.82,231.66 468.10,230.55 473.38,224.40 478.67,206.22 483.95,191.19 489.23,203.46 494.52,222.82 499.80,230.22 505.08,231.60 510.37,231.95 515.65,232.13 520.93,232.20 526.22,232.23 531.50,232.24 536.78,232.23 542.07,232.20 547.35,232.12 552.63,231.94 557.92,231.57 563.20,230.05 568.48,222.07 573.77,202.29 579.05,191.35 584.33,207.42 589.62,225.01 594.90,230.67 600.18,231.69 605.46,231.99 610.75,232.15 616.03,232.21 621.32,232.24 626.60,232.25 631.88,232.25 637.16,232.25 642.45,232.25 647.73,232.25 653.02,232.25 658.30,232.25 663.58,232.25 668.86,232.25" fill="none" stroke="#ff7f0e" stroke-width="1.6" stroke-linejoin="round" opacity="1.0"/>
<rect x="380.40" y="184.40" width="302.20" height="50.10" fill="none" stroke="#a4a4a4" stroke-width="1"/>
<line x1="417.03" y1="234.50" x2="417.03" y2="236.30" stroke="#777" stroke-width="0.8"/>
<text x="417.03" y="243.80" text-anchor="middle" class="tk" textLength="10.4" lengthAdjust="spacingAndGlyphs">−4</text>
<line x1="474.27" y1="234.50" x2="474.27" y2="236.30" stroke="#777" stroke-width="0.8"/>
<text x="474.27" y="243.80" text-anchor="middle" class="tk" textLength="10.4" lengthAdjust="spacingAndGlyphs">−2</text>
<line x1="531.50" y1="234.50" x2="531.50" y2="236.30" stroke="#777" stroke-width="0.8"/>
<text x="531.50" y="243.80" text-anchor="middle" class="tk">0</text>
<line x1="588.73" y1="234.50" x2="588.73" y2="236.30" stroke="#777" stroke-width="0.8"/>
<text x="588.73" y="243.80" text-anchor="middle" class="tk">2</text>
<line x1="645.97" y1="234.50" x2="645.97" y2="236.30" stroke="#777" stroke-width="0.8"/>
<text x="645.97" y="243.80" text-anchor="middle" class="tk">4</text>
<line x1="378.60" y1="232.80" x2="380.40" y2="232.80" stroke="#777" stroke-width="0.8"/>
<text x="376.80" y="235.30" text-anchor="end" class="tk">0.0</text>
<line x1="378.60" y1="205.20" x2="380.40" y2="205.20" stroke="#777" stroke-width="0.8"/>
<text x="376.80" y="207.70" text-anchor="end" class="tk">0.1</text>
<text x="441.44" y="227.18" text-anchor="middle" class="pl" textLength="9.22" lengthAdjust="spacingAndGlyphs">C4</text>
<rect x="380.40" y="245.30" width="302.20" height="50.40" fill="#fff"/>
<polyline points="394.14,292.51 399.42,292.39 404.70,292.66 409.98,292.99 415.27,293.14 420.55,293.18 425.84,293.18 431.12,293.19 436.40,293.19 441.68,293.18 446.97,293.17 452.25,293.13 457.54,293.01 462.82,292.78 468.10,292.13 473.38,288.34 478.67,273.25 483.95,255.12 489.23,263.47 494.52,283.34 499.80,291.21 505.08,292.59 510.37,292.93 515.65,293.09 520.93,293.15 526.22,293.18 531.50,293.18 536.78,293.18 542.07,293.15 547.35,293.09 552.63,292.93 557.92,292.59 563.20,291.21 568.48,283.34 573.77,263.47 579.05,255.12 584.33,273.25 589.62,288.34 594.90,292.13 600.18,292.78 605.46,293.01 610.75,293.13 616.03,293.17 621.32,293.18 626.60,293.19 631.88,293.19 637.16,293.18 642.45,293.17 647.73,293.15 653.02,293.03 658.30,292.71 663.58,292.36 668.86,292.39" fill="none" stroke="#7c7c7c" stroke-width="1.0" stroke-linejoin="round" opacity="1.0"/>
<polyline points="394.14,292.28 399.42,292.39 404.70,292.79 409.98,293.06 415.27,293.14 420.55,293.17 425.84,293.18 431.12,293.19 436.40,293.19 441.68,293.18 446.97,293.16 452.25,293.11 457.54,293.00 462.82,292.76 468.10,292.14 473.38,288.73 478.67,275.43 483.95,257.00 489.23,260.17 494.52,279.54 499.80,290.06 505.08,292.36 510.37,292.83 515.65,293.03 520.93,293.13 526.22,293.17 531.50,293.18 536.78,293.17 542.07,293.13 547.35,293.03 552.63,292.83 557.92,292.36 563.20,290.06 568.48,279.54 573.77,260.17 579.05,257.00 584.33,275.43 589.62,288.73 594.90,292.14 600.18,292.76 605.46,293.00 610.75,293.11 616.03,293.16 621.32,293.18 626.60,293.19 631.88,293.19 637.16,293.18 642.45,293.18 647.73,293.13 653.02,292.95 658.30,292.64 663.58,292.49 668.86,292.66" fill="none" stroke="#7c7c7c" stroke-width="1.0" stroke-linejoin="round" opacity="1.0"/>
<polyline points="394.14,292.27 399.42,292.59 404.70,292.94 409.98,293.07 415.27,293.12 420.55,293.16 425.84,293.18 431.12,293.19 436.40,293.19 441.68,293.18 446.97,293.17 452.25,293.12 457.54,293.00 462.82,292.75 468.10,292.01 473.38,287.54 478.67,271.44 483.95,255.42 489.23,266.43 494.52,285.02 499.80,291.55 505.08,292.65 510.37,292.96 515.65,293.10 520.93,293.16 526.22,293.18 531.50,293.18 536.78,293.18 542.07,293.16 547.35,293.10 552.63,292.96 557.92,292.65 563.20,291.55 568.48,285.02 573.77,266.43 579.05,255.42 584.33,271.44 589.62,287.54 594.90,292.01 600.18,292.75 605.46,293.00 610.75,293.12 616.03,293.17 621.32,293.18 626.60,293.19 631.88,293.19 637.16,293.18 642.45,293.17 647.73,293.10 653.02,292.92 658.30,292.72 663.58,292.72 668.86,292.81" fill="none" stroke="#7c7c7c" stroke-width="1.0" stroke-linejoin="round" opacity="1.0"/>
<polyline points="394.14,292.49 399.42,292.80 404.70,292.96 409.98,293.01 415.27,293.09 420.55,293.16 425.84,293.18 431.12,293.19 436.40,293.19 441.68,293.18 446.97,293.16 452.25,293.11 457.54,293.00 462.82,292.76 468.10,292.10 473.38,288.48 478.67,274.95 483.95,257.55 489.23,262.07 494.52,280.83 499.80,290.41 505.08,292.43 510.37,292.86 515.65,293.04 520.93,293.13 526.22,293.17 531.50,293.18 536.78,293.17 542.07,293.13 547.35,293.04 552.63,292.86 557.92,292.43 563.20,290.41 568.48,280.83 573.77,262.07 579.05,257.55 584.33,274.95 589.62,288.48 594.90,292.10 600.18,292.76 605.46,293.00 610.75,293.11 616.03,293.16 621.32,293.18 626.60,293.19 631.88,293.19 637.16,293.18 642.45,293.16 647.73,293.08 653.02,292.95 658.30,292.88 663.58,292.86 668.86,292.69" fill="none" stroke="#7c7c7c" stroke-width="1.0" stroke-linejoin="round" opacity="1.0"/>
<polyline points="396.43,293.42 401.00,293.42 405.58,293.42 410.16,293.42 414.74,293.42 419.32,293.42 423.90,293.42 428.48,293.42 433.06,293.42 437.63,293.42 442.21,293.42 446.79,293.41 451.37,293.39 455.95,293.35 460.53,293.28 465.11,293.14 469.69,292.89 474.27,292.08 478.84,288.89 483.42,280.22 488.00,268.10 492.58,263.77 497.16,272.45 501.74,284.22 506.32,290.58 510.90,292.52 515.47,293.01 520.05,293.20 524.63,293.30 529.21,293.35 533.79,293.35 538.37,293.30 542.95,293.20 547.53,293.01 552.10,292.52 556.68,290.58 561.26,284.22 565.84,272.45 570.42,263.77 575.00,268.10 579.58,280.22 584.16,288.89 588.73,292.08 593.31,292.89 597.89,293.14 602.47,293.28 607.05,293.35 611.63,293.39 616.21,293.41 620.79,293.42 625.37,293.42 629.94,293.42 634.52,293.42 639.10,293.42 643.68,293.42 648.26,293.42 652.84,293.42 657.42,293.42 662.00,293.42 666.57,293.42" fill="none" stroke="#b22222" stroke-width="1.2" stroke-linejoin="round" opacity="1.0"/>
<polyline points="394.14,293.42 399.42,293.42 404.70,293.42 409.98,293.42 415.27,293.42 420.55,293.42 425.84,293.42 431.12,293.42 436.40,293.42 441.68,293.42 446.97,293.41 452.25,293.36 457.54,293.23 462.82,292.95 468.10,292.11 473.38,286.68 478.67,265.92 483.95,247.71 489.23,265.45 494.52,286.48 499.80,292.08 505.08,292.94 510.37,293.23 515.65,293.36 520.93,293.41 526.22,293.42 531.50,293.42 536.78,293.42 542.07,293.41 547.35,293.36 552.63,293.23 557.92,292.93 563.20,292.03 568.48,286.15 573.77,264.71 579.05,247.73 584.33,266.66 589.62,286.99 594.90,292.16 600.18,292.96 605.46,293.24 610.75,293.36 616.03,293.41 621.32,293.42 626.60,293.42 631.88,293.42 637.16,293.42 642.45,293.42 647.73,293.42 653.02,293.42 658.30,293.42 663.58,293.42 668.86,293.42" fill="none" stroke="#ff7f0e" stroke-width="1.6" stroke-linejoin="round" opacity="1.0"/>
<rect x="380.40" y="245.30" width="302.20" height="50.40" fill="none" stroke="#a4a4a4" stroke-width="1"/>
<line x1="417.03" y1="295.70" x2="417.03" y2="297.50" stroke="#777" stroke-width="0.8"/>
<text x="417.03" y="305.00" text-anchor="middle" class="tk" textLength="10.4" lengthAdjust="spacingAndGlyphs">−4</text>
<line x1="474.27" y1="295.70" x2="474.27" y2="297.50" stroke="#777" stroke-width="0.8"/>
<text x="474.27" y="305.00" text-anchor="middle" class="tk" textLength="10.4" lengthAdjust="spacingAndGlyphs">−2</text>
<line x1="531.50" y1="295.70" x2="531.50" y2="297.50" stroke="#777" stroke-width="0.8"/>
<text x="531.50" y="305.00" text-anchor="middle" class="tk">0</text>
<line x1="588.73" y1="295.70" x2="588.73" y2="297.50" stroke="#777" stroke-width="0.8"/>
<text x="588.73" y="305.00" text-anchor="middle" class="tk">2</text>
<line x1="645.97" y1="295.70" x2="645.97" y2="297.50" stroke="#777" stroke-width="0.8"/>
<text x="645.97" y="305.00" text-anchor="middle" class="tk">4</text>
<line x1="378.60" y1="293.90" x2="380.40" y2="293.90" stroke="#777" stroke-width="0.8"/>
<text x="376.80" y="296.40" text-anchor="end" class="tk">0.0</text>
<line x1="378.60" y1="270.15" x2="380.40" y2="270.15" stroke="#777" stroke-width="0.8"/>
<text x="376.80" y="272.65" text-anchor="end" class="tk">0.1</text>
<line x1="378.60" y1="246.40" x2="380.40" y2="246.40" stroke="#777" stroke-width="0.8"/>
<text x="376.80" y="248.90" text-anchor="end" class="tk">0.2</text>
<text x="441.44" y="288.32" text-anchor="middle" class="pl" textLength="9.97" lengthAdjust="spacingAndGlyphs">O1</text>
<rect x="618.70" y="6.20" width="59.70" height="22.70" rx="1.5" fill="#fff" fill-opacity="0.8" stroke="#ddd" stroke-width="0.8"/>
<line x1="621.10" y1="11.80" x2="636.90" y2="11.80" stroke="#ff7f0e" stroke-width="1.5"/>
<line x1="621.10" y1="22.40" x2="636.90" y2="22.40" stroke="#b22222" stroke-width="1.3"/>
<text x="642.00" y="14.40" class="lg" textLength="20.4" lengthAdjust="spacingAndGlyphs">gbest</text>
<text x="642.00" y="25.10" class="lg" textLength="34.2" lengthAdjust="spacingAndGlyphs">AA target</text>
<text transform="translate(361.70,149.10) rotate(-90)" text-anchor="middle" class="yl" textLength="104.6" lengthAdjust="spacingAndGlyphs">Normalized Density</text>
<text x="531.50" y="315.30" text-anchor="middle" class="xl" textLength="162.4" lengthAdjust="spacingAndGlyphs">Distance from POPC Center (nm)</text>
<text x="528.70" y="341.00" text-anchor="middle" class="sub">(b)</text>
</svg>
</body></html>
